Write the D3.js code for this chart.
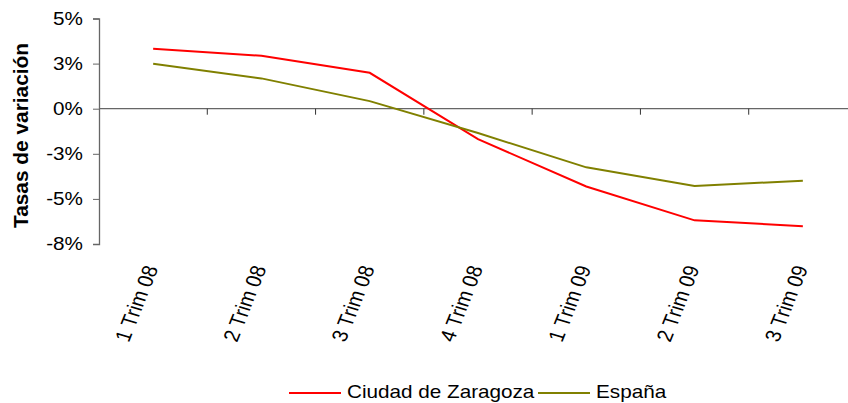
<!DOCTYPE html>
<html>
<head>
<meta charset="utf-8">
<script src="https://cdn.jsdelivr.net/npm/d3@7"></script>
<style>
  body { margin: 0; background: #fff; }
  svg text { font-family: "Liberation Sans", Arial, sans-serif; }
</style>
</head>
<body>
<svg id="chart"></svg>
<script>
let categories = ['1 Trim 08', '2 Trim 08', '3 Trim 08', '4 Trim 08', '1 Trim 09', '2 Trim 09', '3 Trim 09']
let zaragoza = [3.32, 2.93, 1.99, -1.69, -4.31, -6.19, -6.51]
let espana = [2.49, 1.68, 0.42, -1.35, -3.25, -4.29, -3.99]
let yTicks = [5, 2.5, 0, -2.5, -5, -7.5]
let seriesNames = ['Ciudad de Zaragoza', 'España']
let seriesColors = ['#ff0000', '#808000']

let w = 848, h = 403
let sx = 1.15 // text looks a bit stretched sideways in the original
let svg = d3.select('#chart').attr('width', w).attr('height', h)

let x = d3.scaleBand().domain(categories).range([99, 857])
let y = d3.scaleLinear().domain([-7.5, 5]).range([244, 18.5])

// y axis, labels rounded like the original ("-3%" for -2.5)
let pct = d => d3.format('.0f')(d).replace('\u2212', '-') + '%'
let yAxis = svg.append('g')
  .attr('transform', 'translate(99,0)')
  .call(d3.axisLeft(y).tickValues(yTicks).tickSize(6).tickFormat(pct))
yAxis.select('.domain').attr('stroke', '#666').attr('stroke-width', 1.3)
yAxis.selectAll('.tick line').attr('stroke', '#666')
yAxis.selectAll('.tick text')
  .attr('x', 0)
  .attr('transform', `translate(-16,0) scale(${sx},1)`)
  .attr('font-size', 18).attr('fill', '#000')

// x axis on zero line
let xAxis = svg.append('g').attr('transform', `translate(0,${y(0)})`)
xAxis.append('line')
  .attr('x1', 99).attr('x2', 857)
  .attr('stroke', '#666').attr('stroke-width', 1.3)
xAxis.selectAll('.xtick')
  .data(categories.slice(1))
  .enter().append('line')
  .attr('x1', d => x(d)).attr('x2', d => x(d))
  .attr('y1', 0).attr('y2', 6)
  .attr('stroke', '#333')

// x labels, rotated
svg.selectAll('.xlabel')
  .data(categories)
  .enter().append('text')
  .attr('class', 'xlabel')
  .attr('transform', d => `translate(${x(d) + x.bandwidth() / 2 - 2},266) scale(${sx},1) rotate(-71)`)
  .attr('text-anchor', 'end')
  .attr('font-size', 19)
  .attr('dy', '0.35em')
  .text(d => d)

// lines
let line = d3.line()
  .x((d, i) => x(categories[i]) + x.bandwidth() / 2)
  .y(d => y(d))

;[zaragoza, espana].forEach((s, i) => {
  svg.append('path')
    .datum(s)
    .attr('d', line)
    .attr('fill', 'none')
    .attr('stroke', seriesColors[i])
    .attr('stroke-width', 2)
})

// y title
svg.append('text')
  .attr('transform', 'translate(28,135.5) rotate(-90)')
  .attr('text-anchor', 'middle')
  .attr('font-size', 21)
  .attr('font-weight', 'bold')
  .attr('textLength', 185)
  .attr('lengthAdjust', 'spacingAndGlyphs')
  .text('Tasas de variación')

// legend
let legendX = [289, 538]
seriesNames.forEach((n, i) => {
  let g = svg.append('g').attr('transform', `translate(${legendX[i]},393)`)
  g.append('line').attr('x1', 0).attr('x2', 52)
    .attr('stroke', seriesColors[i]).attr('stroke-width', 2)
  g.append('text')
    .attr('transform', `translate(58,4.5) scale(${sx},1)`)
    .attr('font-size', 18).text(n)
})
</script>
</body>
</html>
